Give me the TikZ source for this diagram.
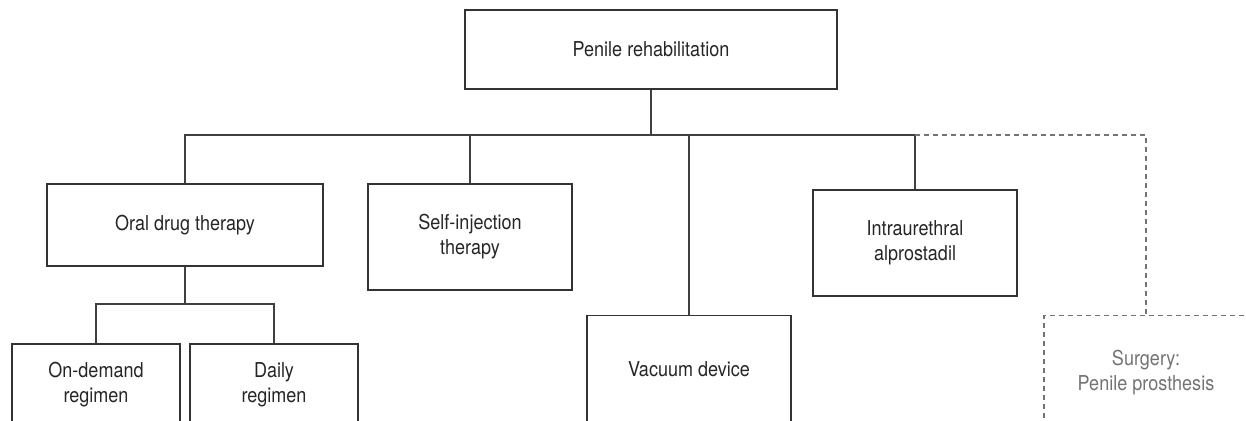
\documentclass[tikz,border=0pt]{standalone}
\usepackage{fontspec}
\setmainfont[FakeStretch=0.88]{TeX Gyre Heros}
\begin{document}
\begin{tikzpicture}[x=1pt,y=-1pt,
  box/.style={draw=black!80,line width=1.2pt,text=black!85,align=center,inner sep=0pt,
    font=\fontsize{20.5}{25}\selectfont},
  opt/.style={box,draw=black!55,text=black!55,dash pattern=on 5pt off 4pt},
  link/.style={draw=black!75,line width=1.2pt},
  optlink/.style={draw=black!55,line width=1.2pt,dash pattern=on 5pt off 4pt}]
\useasboundingbox (0,0) rectangle (1246,420);
\node[box,minimum width=372pt,minimum height=79pt] (top) at (651,49.5) {Penile rehabilitation};
\node[box,minimum width=276pt,minimum height=82pt] (oral) at (185,225) {Oral drug therapy};
\node[box,minimum width=204pt,minimum height=106pt] (self) at (470,237) {Self-injection\\therapy};
\node[box,minimum width=204pt,anchor=north,text height=60.5pt,text depth=60pt] (vac) at (689,315) {Vacuum device};
\node[box,minimum width=204pt,minimum height=106pt] (intra) at (915,243) {Intraurethral\\alprostadil};
\node[box,minimum width=168pt,minimum height=82pt] (od) at (96,385) {On-demand\\regimen};
\node[box,minimum width=168pt,minimum height=82pt] (daily) at (274,385) {Daily\\regimen};
\node[opt,minimum width=204pt,anchor=north,text height=74.5pt,text depth=50pt] (surg) at (1146,315) {Surgery:\\Penile prosthesis};
\coordinate (b1) at (651,135);
\coordinate (sb) at (185,304);
\draw[link] (top.south) -- (b1);
\draw[link] (oral.north) |- (intra.north |- b1) -- (intra.north);
\draw[link] (self.north) -- (self.north |- b1);
\draw[link] (vac.north) -- (vac.north |- b1);
\draw[optlink] (intra.north |- b1) -| (surg.north);
\draw[link] (oral.south) -- (sb);
\draw[link] (od.north) |- (daily.north |- sb) -- (daily.north);
\end{tikzpicture}
\end{document}
